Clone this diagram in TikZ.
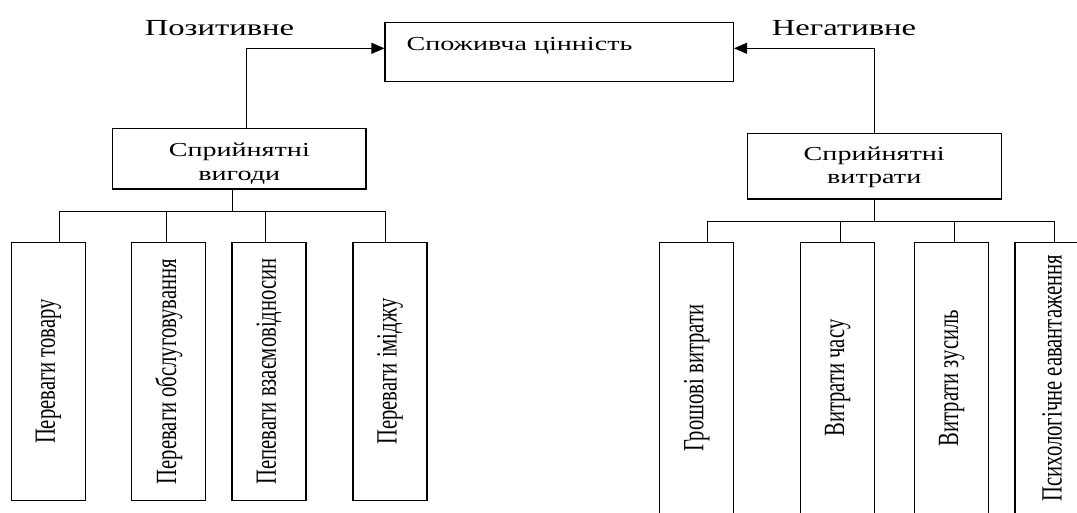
\documentclass[tikz,border=0pt]{standalone}
\usepackage{fontspec}
\usepackage{graphicx}
\setmainfont{Liberation Serif}[FakeStretch=1.42]
\newfontfamily\tallfont{Liberation Serif}[FakeStretch=0.704]
\usetikzlibrary{arrows.meta}

\tikzstyle{box} = [draw, line width=1.1pt, inner sep=0pt]
\tikzstyle{leaf} = [box, minimum width=74pt, font=\tallfont\fontsize{29.3}{32}\selectfont]
\tikzstyle{midtext} = [align=center, font=\fontsize{19.8}{23.3}\selectfont]
\tikzstyle{line} = [draw, line width=1.1pt]
\tikzstyle{arrow} = [line, -{Triangle[length=13pt,width=11pt]}]

\begin{document}
\begin{tikzpicture}[x=1pt,y=-1pt]
\useasboundingbox (0,0) rectangle (1077,512);
\clip (0,0) rectangle (1077,512);

%top
\node[box, minimum width=348.5pt, minimum height=59.4pt] (cv) at (559.25,52) {};
\node[anchor=base west, font=\fontsize{19.8}{24}\selectfont] (cvtext) at (403,50) {Споживча цінність};
\node[anchor=base, font=\fontsize{23}{27}\selectfont] (pos) at (219.5,35) {Позитивне};
\node[anchor=base, font=\fontsize{23}{27}\selectfont] (neg) at (844,35) {Негативне};

%middle
\node[box, minimum width=253.4pt, minimum height=60.7pt] (lv) at (239.3,158.65) {};
\node[midtext] (lvtext) at ([yshift=-5pt]lv.center) {Сприйнятні\\вигоди};
\node[box, minimum width=254.1pt, minimum height=65.7pt] (rv) at (874.25,166.15) {};
\node[midtext] (rvtext) at ([yshift=-1.5pt]rv.center) {Сприйнятні\\витрати};

\draw[arrow] ([xshift=6.9pt]lv.north) |- ([yshift=3.7pt]cv.west);
\draw[arrow] (rv.north) |- ([yshift=3.7pt]cv.east);

%leaves left
\node[leaf, minimum height=258.4pt] (l1) at (48.5,371.5) {\rotatebox{90}{Переваги товару}};
\node[leaf, minimum height=258.4pt] (l2) at (168.9,371.5) {\rotatebox{90}{Переваги обслуговування}};
\node[leaf, minimum height=258.4pt] (l3) at (269,371.5) {\rotatebox{90}{Пепеваги взаємовідносин}};
\node[leaf, minimum height=258.4pt] (l4) at (390,371.5) {\rotatebox{90}{Переваги іміджу}};

%leaves right
\node[leaf, minimum height=271.7pt] (r1) at (696.7,378.15) {\rotatebox{90}{Грошові витрати}};
\node[leaf, minimum height=271.7pt] (r2) at (837.6,378.15) {\rotatebox{90}{Витрати часу}};
\node[leaf, minimum height=271.7pt] (r3) at (951.8,378.15) {\rotatebox{90}{Витрати зусиль}};
\node[leaf, minimum height=271.7pt] (r4) at (1052,378.15) {\rotatebox{90}{Психологічне еавантаження}};

%tree lines
\draw[line] ([xshift=-6.9pt]lv.south) -- ++(0,22) coordinate (lbus);
\foreach \leaf/\dx in {l1/10.7,l2/-2.6,l3/-3.5,l4/-4.3}
  \draw[line] ([xshift=\dx pt]\leaf.north) |- (lbus);
\draw[line] (rv.south) -- ++(0,22) coordinate (rbus);
\foreach \leaf/\dx in {r1/10.4,r2/3.1,r3/2.9,r4/2.4}
  \draw[line] ([xshift=\dx pt]\leaf.north) |- (rbus);
\end{tikzpicture}
\end{document}
